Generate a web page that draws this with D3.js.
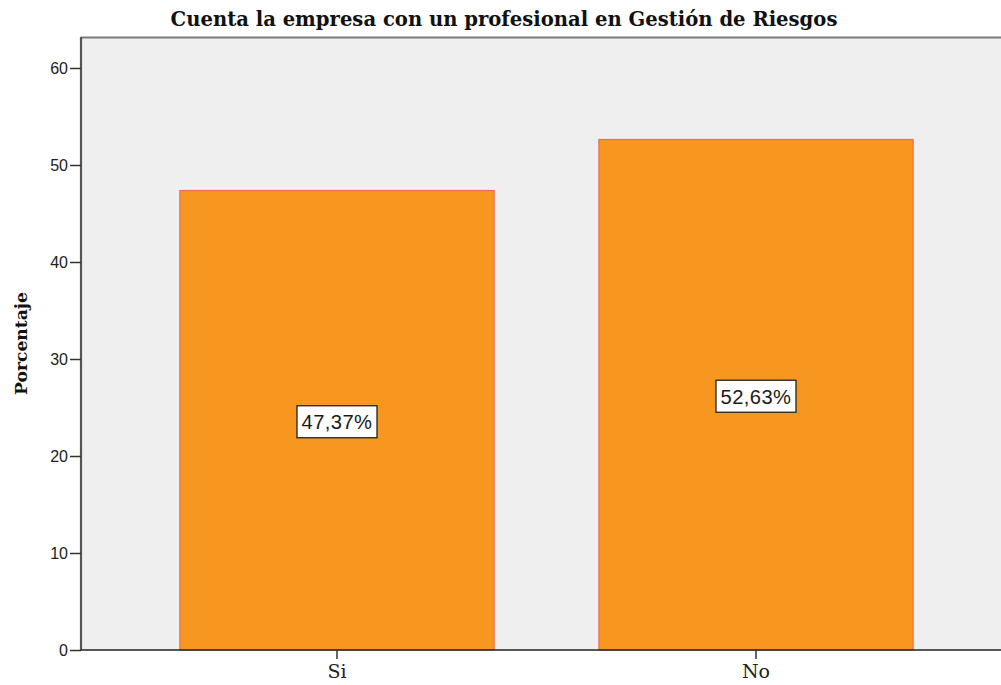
<!DOCTYPE html>
<html>
<head>
<meta charset="utf-8">
<script src="https://cdn.jsdelivr.net/npm/d3@7"></script>
<style>
  html, body { margin: 0; padding: 0; background: #fff; }
  svg { display: block; }
</style>
</head>
<body>
<script>
// Chart data
const categories = ["Si", "No"];
const percentages = [47.37, 52.63];
const valueLabels = ["47,37%", "52,63%"];
const yTicks = [0, 10, 20, 30, 40, 50, 60];
const title = "Cuenta la empresa con un profesional en Gestión de Riesgos";
const yTitle = "Porcentaje";

const W = 1001, H = 685;
const plot = { left: 81, top: 37, right: 1001, bottom: 650 };
const serif = "'DejaVu Serif', 'Liberation Serif', serif";
const sans = "Arial, 'Liberation Sans', sans-serif";

const svg = d3.select("body").append("svg").attr("width", W).attr("height", H);

// Scale a text element's font size so it spans the given width
function fitWidth(sel, target) {
  const fs = +sel.attr("font-size");
  const w = sel.node().getComputedTextLength();
  if (w > 0) sel.attr("font-size", (fs * target / w).toFixed(2));
}

const y = d3.scaleLinear().domain([0, 60]).range([plot.bottom, 68]);
const x = d3.scaleBand().domain(categories).range([127.5, 965.5])
  .paddingInner(0.25).paddingOuter(0.125);

// plot background
svg.append("rect")
  .attr("x", plot.left).attr("y", plot.top)
  .attr("width", plot.right - plot.left).attr("height", plot.bottom - plot.top)
  .attr("fill", "#efefef");

// top frame line
svg.append("line")
  .attr("x1", plot.left).attr("x2", plot.right)
  .attr("y1", plot.top + 0.5).attr("y2", plot.top + 0.5)
  .attr("stroke", "#7a7a7a").attr("stroke-width", 2);

// bars
svg.selectAll("rect.bar").data(categories).enter().append("rect")
  .attr("class", "bar")
  .attr("x", d => x(d))
  .attr("y", (d, i) => y(percentages[i]))
  .attr("width", x.bandwidth())
  .attr("height", (d, i) => y(0) - y(percentages[i]))
  .attr("fill", "#f7971f")
  .attr("stroke", "#f06a5a")
  .attr("stroke-width", 1.2);

// value labels in boxes
const lab = svg.selectAll("g.lab").data(categories).enter().append("g")
  .attr("class", "lab")
  .attr("transform", (d, i) => `translate(${x(d) + x.bandwidth() / 2},${y(percentages[i] / 2) + 1.5})`);
lab.each(function (d, i) {
  const g = d3.select(this);
  const t = g.append("text")
    .attr("text-anchor", "middle").attr("dy", "0.36em")
    .attr("font-family", sans)
    .attr("font-size", 19).attr("fill", "#1a1a1a")
    .attr("letter-spacing", 0.4)
    .text(valueLabels[i]);
  fitWidth(t, 71);
  g.insert("rect", "text")
    .attr("x", -40).attr("y", -16)
    .attr("width", 80).attr("height", 32)
    .attr("fill", "#fff").attr("stroke", "#222").attr("stroke-width", 1.3);
});

// y axis
const yAxis = svg.append("g")
  .attr("transform", `translate(${plot.left},0)`)
  .call(d3.axisLeft(y).tickValues(yTicks).tickSize(11).tickSizeOuter(0).tickPadding(2));
yAxis.select(".domain").attr("stroke", "#555").attr("stroke-width", 2.2)
  .attr("d", `M0,${plot.top}V${plot.bottom}`);
yAxis.selectAll(".tick line").attr("stroke", "#333").attr("stroke-width", 1.5);
yAxis.selectAll(".tick text")
  .attr("font-family", sans)
  .attr("font-size", 16).attr("fill", "#222");

// x axis
const xAxis = svg.append("g")
  .attr("transform", `translate(0,${plot.bottom})`)
  .call(d3.axisBottom(x).tickSize(9).tickSizeOuter(0).tickPadding(6));
xAxis.select(".domain").attr("stroke", "#222").attr("stroke-width", 1.5)
  .attr("d", `M${plot.left},0H${plot.right}`);
xAxis.selectAll(".tick line").attr("stroke", "#333").attr("stroke-width", 1.5);
xAxis.selectAll(".tick text")
  .attr("font-family", serif)
  .attr("font-size", 19).attr("fill", "#222");

// title
const tt = svg.append("text")
  .attr("x", 504).attr("y", 26)
  .attr("text-anchor", "middle")
  .attr("font-family", serif)
  .attr("font-weight", "bold").attr("font-size", 18).attr("fill", "#111")
  .text(title);
fitWidth(tt, 667);

// y axis title
const yt = svg.append("text")
  .attr("transform", `translate(27,343.5) rotate(-90)`)
  .attr("text-anchor", "middle")
  .attr("font-family", serif)
  .attr("font-weight", "bold").attr("font-size", 17).attr("fill", "#111")
  .text(yTitle);
fitWidth(yt, 103);
</script>
</body>
</html>
